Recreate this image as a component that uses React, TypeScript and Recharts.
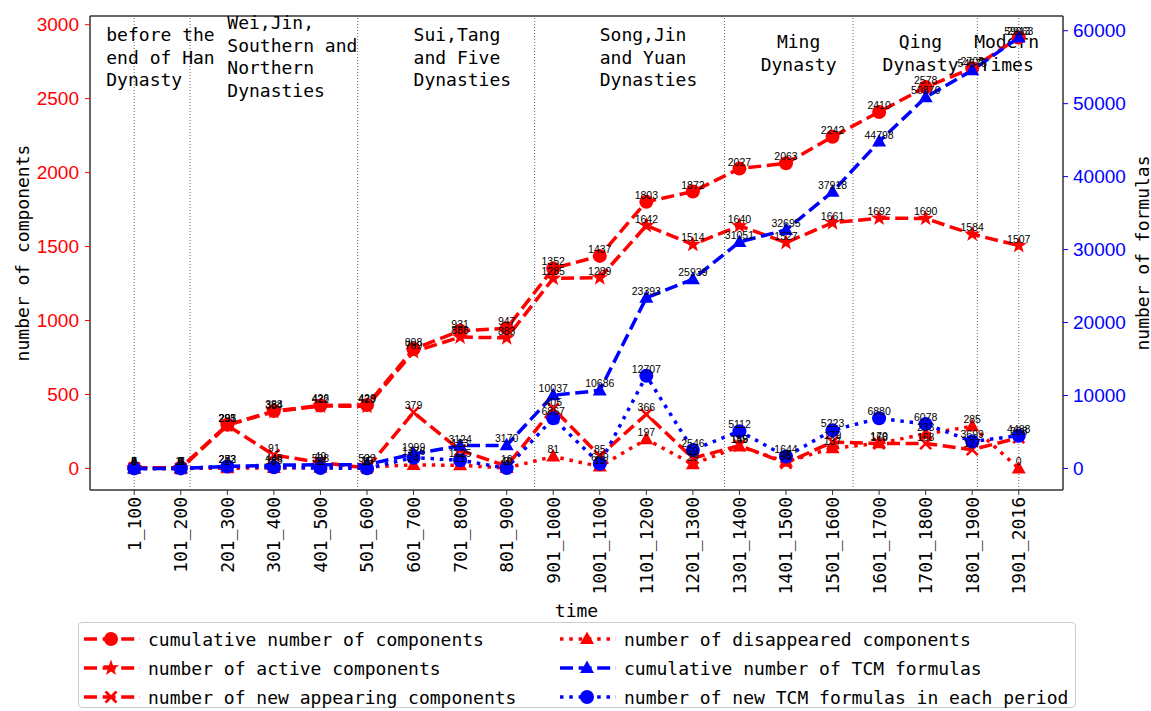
import React from "react";
import { LineChart, Line, XAxis, YAxis, ReferenceLine, LabelList } from "recharts";

// Periods (100-year bins) along the time axis
const periods = [
  "1_100", "101_200", "201_300", "301_400", "401_500", "501_600", "601_700",
  "701_800", "801_900", "901_1000", "1001_1100", "1101_1200", "1201_1300",
  "1301_1400", "1401_1500", "1501_1600", "1601_1700", "1701_1800", "1801_1900", "1901_2016",
];

// Components (left axis)
const cumulativeComponents = [4, 4, 295, 388, 426, 429, 808, 931, 947, 1352, 1437, 1803, 1872, 2027, 2063, 2242, 2410, 2578, 2705, 2913];
const activeComponents = [4, 4, 293, 384, 422, 420, 789, 888, 883, 1285, 1289, 1642, 1514, 1640, 1527, 1661, 1692, 1690, 1584, 1507];
const newComponents = [4, 0, 291, 91, 40, 3, 379, 123, 16, 405, 85, 366, 69, 155, 36, 179, 168, 168, 127, 208];
const disappearedComponents = [0, 0, 2, 3, 5, 10, 24, 21, 3, 81, 13, 197, 29, 149, 45, 137, 170, 233, 285, 0];

// TCM formulas (right axis)
const cumulativeFormulas = [5, 11, 283, 446, 508, 523, 1999, 3124, 3170, 10037, 10686, 23393, 25939, 31051, 32695, 37918, 44798, 50876, 54575, 59063];
const newFormulas = [5, 6, 272, 163, 62, 15, 1476, 1125, 46, 6867, 649, 12707, 2546, 5112, 1644, 5223, 6880, 6078, 3699, 4488];

const leftTicks = [0, 500, 1000, 1500, 2000, 2500, 3000];
const rightTicks = [0, 10000, 20000, 30000, 40000, 50000, 60000];

// Dynasty boundaries, in period-index units
const eraBounds = [0, 1.2, 4.8, 8.6, 12.68, 15.44, 18.11, 19];
const eras = [
  { at: -0.6, lines: ["before the", "end of Han", "Dynasty"], top: 25, anchor: "start" },
  { at: 2, lines: ["Wei,Jin,", "Southern and", "Northern", "Dynasties"], top: 13, anchor: "start" },
  { at: 6, lines: ["Sui,Tang", "and Five", "Dynasties"], top: 25, anchor: "start" },
  { at: 10, lines: ["Song,Jin", "and Yuan", "Dynasties"], top: 25, anchor: "start" },
  { at: 14.27, lines: ["Ming", "Dynasty"], top: 32, anchor: "middle" },
  { at: 16.89, lines: ["Qing", "Dynasty"], top: 32, anchor: "middle" },
  { at: 18.74, lines: ["Modern", "Times"], top: 32, anchor: "middle" },
];

const RED = "#ff0000";
const BLUE = "#0000ff";
const MONO = "'DejaVu Sans Mono', monospace";
const SANS = "'Liberation Sans', Arial, sans-serif";
const DASHED = "13 5.6";
const DOTTED = "3.5 5.8";

type Shape = "circle" | "star" | "cross" | "triangle";

interface SeriesDef {
  key: string;
  name: string;
  values: number[];
  color: string;
  dash: string;
  shape: Shape;
  axis: "left" | "right";
}

const series: SeriesDef[] = [
  { key: "cumComp", name: "cumulative number of components", values: cumulativeComponents, color: RED, dash: DASHED, shape: "circle", axis: "left" },
  { key: "activeComp", name: "number of active components", values: activeComponents, color: RED, dash: DASHED, shape: "star", axis: "left" },
  { key: "newComp", name: "number of new appearing components", values: newComponents, color: RED, dash: DASHED, shape: "cross", axis: "left" },
  { key: "goneComp", name: "number of disappeared components", values: disappearedComponents, color: RED, dash: DOTTED, shape: "triangle", axis: "left" },
  { key: "cumForm", name: "cumulative number of TCM formulas", values: cumulativeFormulas, color: BLUE, dash: DASHED, shape: "triangle", axis: "right" },
  { key: "newForm", name: "number of new TCM formulas in each period", values: newFormulas, color: BLUE, dash: DOTTED, shape: "circle", axis: "right" },
];

const rows = periods.map((p, i) => {
  const row: Record<string, number | string> = { idx: i, period: p };
  for (const s of series) row[s.key] = s.values[i];
  return row;
});

function starPoints(cx: number, cy: number, R: number, r: number) {
  const pts: string[] = [];
  for (let k = 0; k < 10; k++) {
    const a = -Math.PI / 2 + (k * Math.PI) / 5;
    const rad = k % 2 === 0 ? R : r;
    pts.push(`${cx + rad * Math.cos(a)},${cy + rad * Math.sin(a)}`);
  }
  return pts.join(" ");
}

function Mark({ shape, cx, cy, color }: { shape: Shape; cx: number; cy: number; color: string }) {
  if (shape === "circle") return <circle cx={cx} cy={cy} r={7} fill={color} />;
  if (shape === "star") return <polygon points={starPoints(cx, cy, 8.5, 3.4)} fill={color} />;
  if (shape === "triangle")
    return <polygon points={`${cx},${cy - 7.5} ${cx - 7},${cy + 5} ${cx + 7},${cy + 5}`} fill={color} />;
  return (
    <g stroke={color} strokeWidth={2.6}>
      <line x1={cx - 5.5} y1={cy - 5.5} x2={cx + 5.5} y2={cy + 5.5} />
      <line x1={cx - 5.5} y1={cy + 5.5} x2={cx + 5.5} y2={cy - 5.5} />
    </g>
  );
}

function valueLabel(props: any) {
  const vb = props.viewBox || {};
  const x = props.x ?? vb.x;
  const y = props.y ?? vb.y;
  if (x == null || y == null) return null;
  return (
    <text x={x} y={y - 3} textAnchor="middle" fontSize={10.5} fontFamily={SANS} fill="#000">
      {props.value}
    </text>
  );
}

// Rotated period label, reading bottom-to-top and hanging from the tick
function PeriodTick(props: any) {
  const { x, y, payload } = props;
  return (
    <g transform={`translate(${x},${y}) rotate(-90)`}>
      <text x={0} y={0} dy="0.36em" textAnchor="end" fontSize={18} fontFamily={MONO} fill="#000">
        {periods[payload.value]}
      </text>
    </g>
  );
}

function EraText(props: any) {
  const { viewBox, lines, top, anchor } = props;
  if (!viewBox) return null;
  const x = viewBox.x;
  return (
    <text x={x} y={viewBox.y + top} textAnchor={anchor} fontSize={18} fontFamily={MONO} fill="#000">
      {lines.map((l: string, i: number) => (
        <tspan key={i} x={x} dy={i === 0 ? 0 : 22.5}>
          {l}
        </tspan>
      ))}
    </text>
  );
}

function LegendRow({ s, left, top }: { s: SeriesDef; left: number; top: number }) {
  return (
    <div style={{ position: "absolute", left, top, height: 22, display: "flex", alignItems: "center" }}>
      <svg width={56} height={22} style={{ display: "block" }}>
        <line x1={0} y1={11} x2={56} y2={11} stroke={s.color} strokeWidth={3.5} strokeDasharray={s.dash} />
        <Mark shape={s.shape} cx={27} cy={11} color={s.color} />
      </svg>
      <span style={{ marginLeft: 8, fontFamily: MONO, fontSize: 18, whiteSpace: "nowrap", color: "#000" }}>{s.name}</span>
    </div>
  );
}

const LEFT_DOMAIN: [number, number] = [-145.65, 3058.65];
const RIGHT_DOMAIN: [number, number] = [-2953.15, 62016.15];

export default function App() {
  return (
    <div style={{ position: "absolute", left: 0, top: 0, width: 1151, height: 711, background: "#fff" }}>
      <LineChart width={1151} height={620} data={rows} margin={{ top: 16, right: 0, left: 0, bottom: 0 }}>
        <XAxis
          dataKey="idx"
          type="number"
          domain={[-0.95, 19.95]}
          ticks={periods.map((_, i) => i)}
          interval={0}
          height={130}
          tick={<PeriodTick />}
          tickSize={5}
          tickMargin={2}
          axisLine={{ stroke: "#333", strokeWidth: 1.5 }}
          tickLine={{ stroke: "#333" }}
          label={{ value: "time", position: "insideBottom", offset: 3, fontSize: 18, fontFamily: MONO, fill: "#000" }}
        />
        <YAxis
          yAxisId="left"
          domain={LEFT_DOMAIN}
          ticks={leftTicks}
          allowDataOverflow
          width={90}
          tickSize={5}
          tickMargin={6}
          tick={{ fill: RED, fontSize: 19, fontFamily: SANS }}
          tickLine={{ stroke: RED }}
          axisLine={{ stroke: "#333", strokeWidth: 1.5 }}
          label={(p: any) => {
            const vb = p.viewBox || { x: 0, y: 16, width: 90, height: 474 };
            const cx = vb.x + 22;
            const cy = vb.y + vb.height / 2;
            return (
              <text x={cx} y={cy} transform={`rotate(-90 ${cx} ${cy})`} textAnchor="middle" dominantBaseline="central" fontSize={18} fontFamily={MONO} fill="#000">
                number of components
              </text>
            );
          }}
        />
        <YAxis
          yAxisId="right"
          orientation="right"
          domain={RIGHT_DOMAIN}
          ticks={rightTicks}
          allowDataOverflow
          width={88}
          tickSize={5}
          tickMargin={5}
          tick={{ fill: BLUE, fontSize: 19, fontFamily: SANS }}
          tickLine={{ stroke: BLUE }}
          axisLine={{ stroke: "#333", strokeWidth: 1.5 }}
          label={(p: any) => {
            const vb = p.viewBox || { x: 1063, y: 16, width: 88, height: 474 };
            const cx = vb.x + 79;
            const cy = vb.y + vb.height / 2;
            return (
              <text x={cx} y={cy} transform={`rotate(-90 ${cx} ${cy})`} textAnchor="middle" dominantBaseline="central" fontSize={18} fontFamily={MONO} fill="#000">
                number of formulas
              </text>
            );
          }}
        />
        <ReferenceLine yAxisId="left" y={LEFT_DOMAIN[1]} stroke="#333" strokeWidth={1.5} ifOverflow="visible" />
        {eraBounds.map((b) => (
          <ReferenceLine key={`b${b}`} yAxisId="left" x={b} stroke="#666" strokeWidth={1} strokeDasharray="1 2" />
        ))}
        {eras.map((e) => (
          <ReferenceLine
            key={e.lines[0]}
            yAxisId="left"
            x={e.at}
            stroke="none"
            label={<EraText lines={e.lines} top={e.top} anchor={e.anchor} />}
          />
        ))}
        {series.map((s) => (
          <Line
            key={s.key}
            yAxisId={s.axis}
            dataKey={s.key}
            name={s.name}
            type="linear"
            stroke={s.color}
            strokeWidth={3.5}
            strokeDasharray={s.dash}
            isAnimationActive={false}
            dot={(p: any) => <Mark key={`${s.key}-${p.index}`} shape={s.shape} cx={p.cx} cy={p.cy} color={s.color} />}
            activeDot={false}
          >
            <LabelList dataKey={s.key} content={valueLabel} />
          </Line>
        ))}
      </LineChart>
      <div
        style={{
          position: "absolute",
          left: 78,
          top: 622,
          width: 996,
          height: 84,
          border: "1px solid #ccc",
          borderRadius: 4,
          background: "#fff",
        }}
      >
        {series.slice(0, 3).map((s, i) => (
          <LegendRow key={s.key} s={s} left={5} top={5 + i * 29} />
        ))}
        {series.slice(3).map((s, i) => (
          <LegendRow key={s.key} s={s} left={481} top={5 + i * 29} />
        ))}
      </div>
    </div>
  );
}
